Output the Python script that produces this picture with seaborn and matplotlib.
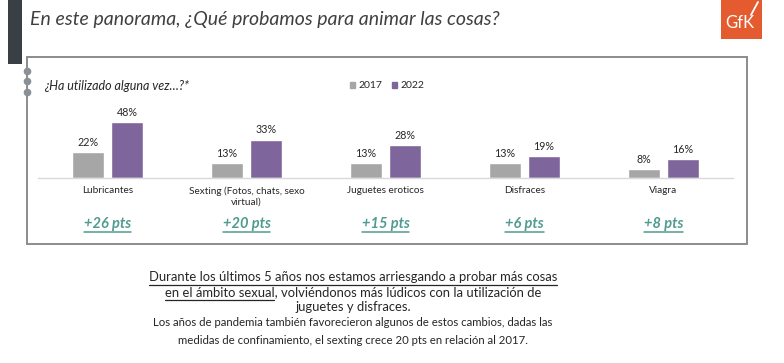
import matplotlib
matplotlib.use("Agg")
import matplotlib.pyplot as plt
import seaborn as sns
import pandas as pd
from matplotlib.patches import Rectangle
from matplotlib.lines import Line2D

categories = ["Lubricantes", "Sexting (Fotos, chats, sexo\nvirtual)", "Juguetes eroticos", "Disfraces", "Viagra"]
years = ["2017", "2022"]
values_2017 = [22, 13, 13, 13, 8]
values_2022 = [48, 33, 28, 19, 16]
diff_labels = ["+26 pts", "+20 pts", "+15 pts", "+6 pts", "+8 pts"]

title = "En este panorama, ¿Qué probamos para animar las cosas?"
subtitle = "¿Ha utilizado alguna vez…?*"
body_lines = ["Durante los últimos 5 años nos estamos arriesgando a probar más cosas",
              "en el ámbito sexual, volviéndonos más lúdicos con la utilización de",
              "juguetes y disfraces."]
note_lines = ["Los años de pandemia también favorecieron algunos de estos cambios, dadas las",
              "medidas de confinamiento, el sexting crece 20 pts en relación al 2017."]

GRAY = "#A6A6A6"
PURPLE = "#7E659B"
TEAL = "#4F9B90"
TXT = "#262626"

sns.set_theme(style="white")
plt.rcParams["font.family"] = ["Lato", "DejaVu Sans"]

W, H = 784, 363
fig = plt.figure(figsize=(W / 100, H / 100), dpi=100)

def fx(x):
    return x / W

def fy(y):
    return 1 - y / H

# decorations
fig.add_artist(Rectangle((fx(8), fy(64)), fx(14), 64 / H, transform=fig.transFigure,
                         facecolor="#3A3F45", edgecolor="none"))
fig.add_artist(Rectangle((fx(27), fy(244)), fx(720), (244 - 57) / H, transform=fig.transFigure,
                         facecolor="none", edgecolor="#8C8C8C", lw=1.4))
for yy in [71, 81, 92]:
    fig.add_artist(Line2D([fx(27)], [fy(yy)], marker="o", markersize=4.5, color="#8A9097",
                          transform=fig.transFigure, lw=0))
# GfK logo
fig.add_artist(Rectangle((fx(721), fy(39)), fx(41), 39 / H, transform=fig.transFigure,
                         facecolor="#E35B2F", edgecolor="none"))
fig.text(fx(740), fy(23), "GfK", color="white", fontsize=12, ha="center", va="center")
fig.add_artist(Line2D([fx(751), fx(758)], [fy(15), fy(2)], color="white", lw=1.3,
                      transform=fig.transFigure))

fig.text(fx(30), fy(20), title, fontsize=14, style="italic",
         color="#404040", ha="left", va="center")
fig.text(fx(44), fy(86), subtitle, fontsize=9, style="italic", color=TXT, ha="left", va="center")

# chart
df = pd.DataFrame({
    "cat": categories * 2,
    "year": [years[0]] * len(categories) + [years[1]] * len(categories),
    "val": values_2017 + values_2022,
})
ax = fig.add_axes([fx(38), fy(178), fx(695), 70 / H])
sns.barplot(data=df, x="cat", y="val", hue="year", palette=[GRAY, PURPLE], width=0.56,
            gap=0.2, ax=ax, legend=False, saturation=1)
ax.set_ylim(0, 60)
ax.set_xlim(-0.5, len(categories) - 0.5)
for c in ax.containers:
    ax.bar_label(c, fmt="{:.0f}%", padding=3, fontsize=7.7, color=TXT)
for s in ["top", "right", "left"]:
    ax.spines[s].set_visible(False)
ax.spines["bottom"].set_color("#D9D9D9")
ax.spines["bottom"].set_linewidth(1)
ax.set_yticks([])
ax.set_xlabel("")
ax.set_ylabel("")
ax.tick_params(axis="x", length=0, pad=6, labelsize=7.2, labelcolor=TXT)
ax.set_facecolor("none")

handles = [Rectangle((0, 0), 1, 1, color=GRAY), Rectangle((0, 0), 1, 1, color=PURPLE)]
fig.legend(handles, years, loc="center", bbox_to_anchor=(fx(387), fy(86)), ncol=2,
           frameon=False, handlelength=0.55, handleheight=0.55, columnspacing=0.9,
           handletextpad=0.3, fontsize=7.5, labelcolor=TXT)

fig.canvas.draw()
r = fig.canvas.get_renderer()

for i, lab in enumerate(diff_labels):
    xc = 38 + 139 * (i + 0.5)
    t = fig.text(fx(xc), fy(224), lab, fontsize=10.5, fontweight="bold", style="italic",
                 color=TEAL, ha="center", va="center")
    bb = t.get_window_extent(r)
    fig.add_artist(Line2D([bb.x0 / W, bb.x1 / W], [fy(232), fy(232)], color=TEAL, lw=1.1,
                          transform=fig.transFigure))

# body text
cx = 353
body_y = [277, 292, 307]
ts = []
for ln, yy in zip(body_lines, body_y):
    t = fig.text(fx(cx), fy(yy), ln, fontsize=9.4, color=TXT, ha="center", va="center")
    ts.append(t)
bb0 = ts[0].get_window_extent(r)
fig.add_artist(Line2D([bb0.x0 / W, bb0.x1 / W], [fy(284.5), fy(284.5)], color=TXT, lw=0.9,
                      transform=fig.transFigure))
bb1 = ts[1].get_window_extent(r)
tmp = fig.text(0, 0, "en el ámbito sexual", fontsize=9.4)
wpre = tmp.get_window_extent(r).width
tmp.remove()
fig.add_artist(Line2D([bb1.x0 / W, (bb1.x0 + wpre) / W], [fy(299.5), fy(299.5)], color=TXT, lw=0.9,
                      transform=fig.transFigure))

for ln, yy in zip(note_lines, [323, 340]):
    fig.text(fx(cx), fy(yy), ln, fontsize=8.2, color=TXT, ha="center", va="center")

fig.savefig("out.png", dpi=100)
